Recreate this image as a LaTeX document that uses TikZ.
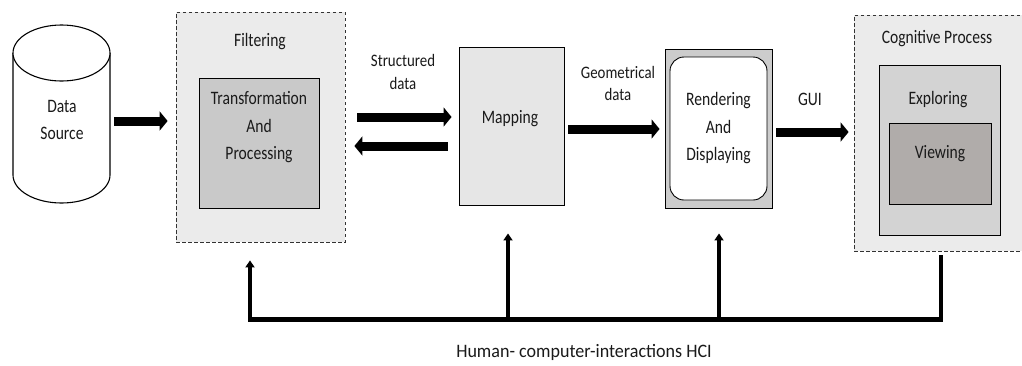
\documentclass[tikz,border=0pt]{standalone}
\usepackage{fontspec}
\setmainfont{Carlito}
\newfontfamily\condfont[FakeStretch=0.82]{Carlito}
\newfontfamily\smcondfont[FakeStretch=0.85]{Carlito}
\newfontfamily\hcifont[FakeStretch=0.95]{Carlito}
\usetikzlibrary{arrows.meta,calc}
\definecolor{lightbg}{HTML}{EBEBEB}
\definecolor{midgray}{HTML}{C9C9C9}
\definecolor{mapgray}{HTML}{E6E6E6}
\definecolor{rendgray}{HTML}{CCCCCC}
\definecolor{explgray}{HTML}{D3D3D3}
\definecolor{viewgray}{HTML}{B0ACAA}
\definecolor{txt}{HTML}{1A1A1A}
\tikzset{
  box/.style={draw=black, line width=0.9pt, inner sep=0pt},
  dashbox/.style={draw=black!80, line width=0.8pt, dash pattern=on 3.5pt off 2.5pt, inner sep=0pt},
  lbl/.style={font=\condfont\fontsize{19}{27.5}\selectfont, text=txt, align=center, inner sep=0pt},
  smlbl/.style={font=\smcondfont\fontsize{17.5}{22.5}\selectfont, text=txt, align=center, inner sep=0pt},
  fat/.style={line width=9pt, -{Triangle[length=8pt,width=19pt]}},
  thin/.style={line width=3.5pt, -{Triangle[length=7pt,width=9pt]}},
}
\begin{document}
\begin{tikzpicture}[x=1pt,y=-1pt]
\clip (0,0) rectangle (1022,365);
\fill[white] (0,0) rectangle (1022,365);

% Data source cylinder
\node[inner sep=0pt, minimum width=97pt, minimum height=178pt] (ds) at (61.5,114) {};
\draw[line width=1.1pt, fill=white] (13,53) -- (13,175) arc[start angle=180,end angle=360,x radius=48.5pt,y radius=28pt] -- (110,53);
\draw[line width=1.1pt, fill=white] (61.5,53) ellipse[x radius=48.5pt,y radius=28pt];
\node[lbl] (dstext) at (62,120) {Data\\Source};

% Filtering
\node[dashbox, fill=lightbg, minimum width=169pt, minimum height=230pt] (filt) at (260.5,127) {};
\node[lbl] (filtt) at (260,42) {Filtering};
\node[box, fill=midgray, minimum width=120pt, minimum height=130pt] (tp) at (259,143) {};
\node[lbl] (tpt) at (259,127.5) {Transformation\\And\\Processing};

% Mapping
\node[box, fill=mapgray, minimum width=105pt, minimum height=158pt] (map) at (511.5,126) {};
\node[lbl] (mapt) at (510,119) {Mapping};

% Rendering
\node[box, fill=rendgray, minimum width=107pt, minimum height=159pt] (rend) at (718.5,128.5) {};
\node[box, fill=white, rounded corners=14pt, minimum width=97pt, minimum height=143pt, lbl] (rendin) at (718.5,128.5) {Rendering\\And\\Displaying};

% Cognitive process
\node[dashbox, fill=lightbg, minimum width=172pt, minimum height=236pt] (cog) at (940,133) {};
\node[lbl] (cogt) at (937,39) {Cognitive Process};
\node[box, fill=explgray, minimum width=121pt, minimum height=170pt] (expl) at (939.5,150) {};
\node[lbl] (explt) at (938,100) {Exploring};
\node[box, fill=viewgray, minimum width=102pt, minimum height=81pt] (view) at (940,163.5) {};
\node[lbl] (viewt) at (940,154) {Viewing};

% Labels on arrows
\node[smlbl] (sd) at (403,72) {Structured\\data};
\node[smlbl] (gd) at (618,83.5) {Geometrical\\data};
\node[lbl] (gui) at (810,99) {GUI};

% Big arrows
\draw[fat] ($(ds.east)+(4,7)$) -- ($(filt.west)+(-8,-6)$);
\draw[fat] ($(filt.east)+(12,-10)$) -- ($(map.west)+(-7,-9)$);
\draw[fat] ($(map.west)+(-11,20)$) -- ($(filt.east)+(9,19)$);
\draw[fat] ($(map.east)+(4,3)$) -- ($(rend.west)+(-5,0.5)$);
\draw[fat] ($(rend.east)+(4,3.5)$) -- ($(cog.west)+(-5,-1)$);

% HCI feedback
\coordinate (hF) at (250,319);
\coordinate (hM) at (508,319);
\coordinate (hRd) at (719,319);
\coordinate (hC) at (941,319);
\draw[line width=5pt] ($(hF)+(-2,0)$) -- ($(hC)+(2,0)$);
\draw[thin, shorten >=18pt] (hF) -- (hF |- filt.south);
\draw[thin, shorten >=28pt] (hM) -- (hM |- map.south);
\draw[thin, shorten >=25pt] (hRd) -- (hRd |- rend.south);
\draw[line width=3.5pt, shorten <=4pt] (hC |- cog.south) -- (hC);
\node[text=txt, inner sep=0pt, font=\hcifont\fontsize{19}{22}\selectfont] (hci) at (584,352) {Human- computer-interactions HCI};
\end{tikzpicture}
\end{document}
